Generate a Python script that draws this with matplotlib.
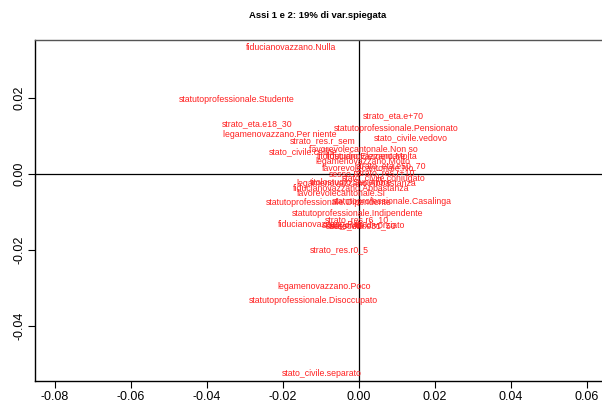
import numpy as np
import matplotlib
matplotlib.use("Agg")
import matplotlib.pyplot as plt

plt.rcParams['font.family'] = ['Liberation Sans', 'DejaVu Sans']
plt.rcParams['axes.unicode_minus'] = True

# category labels and coordinates on axes 1 and 2
labels = [
    "fiducianovazzano.Nulla", "statutoprofessionale.Studente", "strato_eta.e+70",
    "strato_eta.e18_30", "statutoprofessionale.Pensionato", "legamenovazzano.Per niente",
    "stato_civile.vedovo", "strato_res.r_sem", "favorevolecantonale.Non so",
    "stato_civile.celibe", "fiducianovazzano.Molta", "titolostudio.Elementare",
    "legamenovazzano.Molto", "strato_eta.e50_70", "favorevolecantonale.No",
    "strato_res.r+10", "sesso.F", "stato_civile.coniugato", "titolostudio.Superiore",
    "legamenovazzano.Abbastanza", "fiducianovazzano.Abbastanza", "favorevolecantonale.Si",
    "statutoprofessionale.Casalinga", "statutoprofessionale.Dipendente",
    "statutoprofessionale.Indipendente", "strato_res.r6_10", "fiducianovazzano.Poca",
    "stato_civile.divorziato", "strato_eta.e31_50", "sesso.M", "strato_res.r0_5",
    "legamenovazzano.Poco", "statutoprofessionale.Disoccupato", "stato_civile.separato",
]
asse1 = [-0.0180, -0.0322, 0.0090, -0.0267, 0.0098, -0.0209, 0.0137, -0.0095, 0.0011,
         -0.0148, 0.0034, 0.0005, 0.0011, 0.0084, 0.0024, 0.0069, -0.0040, 0.0066,
         -0.0021, -0.0008, -0.0021, -0.0048, 0.0087, -0.0079, -0.0003, -0.0005,
         -0.0095, 0.0011, 0.0005, -0.0034, -0.0053, -0.0092, -0.0121, -0.0098]
asse2 = [0.0334, 0.0197, 0.0155, 0.0134, 0.0121, 0.0105, 0.0097, 0.0089, 0.0066,
         0.0058, 0.0047, 0.0045, 0.0032, 0.0021, 0.0016, 0.0003, 0.0000, -0.0011,
         -0.0021, -0.0024, -0.0037, -0.0050, -0.0071, -0.0076, -0.0105, -0.0121,
         -0.0132, -0.0134, -0.0137, -0.0137, -0.0200, -0.0297, -0.0332, -0.0526]

xticks = [-0.08, -0.06, -0.04, -0.02, 0.00, 0.02, 0.04, 0.06]
yticks = [-0.04, -0.02, 0.00, 0.02]

fig = plt.figure(figsize=(6.02, 4.03), dpi=100)
ax = fig.add_axes([0.058, 0.0546, 0.945, 0.846])

for lab, x, y in zip(labels, asse1, asse2):
    ax.text(x, y, lab, color='#ff2020', fontsize=6.3, ha='center', va='center')

ax.axhline(0, color='black', lw=0.9)
ax.axvline(0, color='black', lw=0.9)

ax.set_xlim(-0.0853, 0.0644)
ax.set_ylim(-0.0545, 0.0353)
ax.set_xticks(xticks)
ax.set_xticklabels(["%.2f" % v for v in xticks])
ax.set_yticks(yticks)
ax.set_yticklabels(["%.2f" % v for v in yticks], rotation=90, va='center')
ax.tick_params(labelsize=9, length=5, width=0.8, pad=2)
for s in ax.spines.values():
    s.set_linewidth(1.0)
ax.spines['top'].set_color('#555555')

fig.suptitle("Assi 1 e 2: 19% di var.spiegata", fontsize=6.8, fontweight='bold', x=0.528, y=0.972)

fig.savefig("out.png", dpi=100)
